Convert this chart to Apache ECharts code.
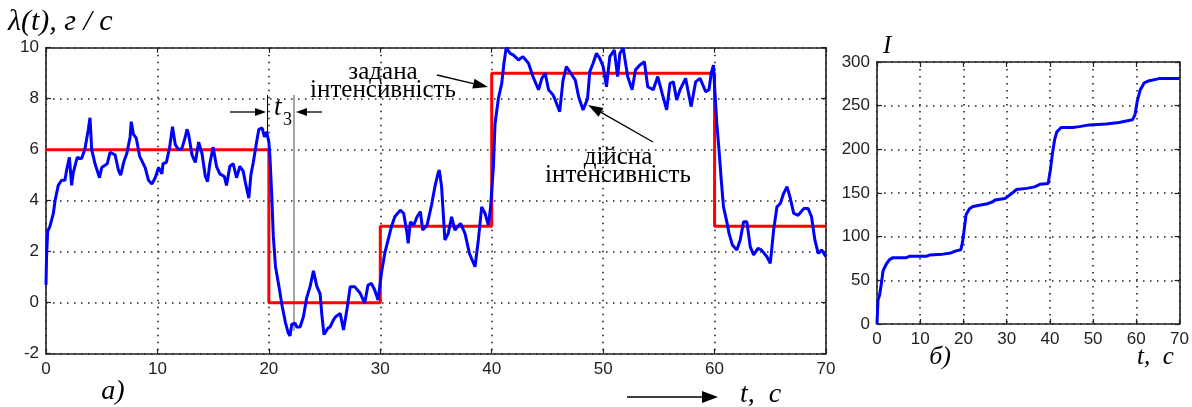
<!DOCTYPE html>
<html>
<head>
<meta charset="utf-8">
<script src="https://cdn.jsdelivr.net/npm/echarts@6/dist/echarts.min.js"></script>
<style>
  html, body { margin: 0; padding: 0; background: #fff; }
  #chart { width: 1192px; height: 407px; }
</style>
</head>
<body>
<div id="chart"></div>
<script>
// ліва панель: задана і дійсна інтенсивність
var setT = [0, 20, 30, 40, 60, 70]
var setV = [6, 0, 3, 9, 3, 3]

var realT = [0, 0.05, 0.15, 0.36, 0.66, 0.81, 1.1, 1.4, 1.7, 1.85, 2.1, 2.3, 2.45, 2.8, 3.2, 3.5, 3.8, 3.95,
  4.1, 4.4, 4.8, 5.0, 5.5, 5.75, 6.2, 6.5, 6.7, 7.0, 7.25, 7.55, 7.65, 7.85, 8.1, 8.4, 8.9, 9.2, 9.5, 9.8,
  10.1, 10.4, 10.5, 10.8, 11.1, 11.35, 11.6, 11.9, 12.2, 12.5, 12.65, 12.8, 13.1, 13.4, 13.7, 14.0, 14.3,
  14.5, 14.7, 15.0, 15.3, 15.6, 16.0, 16.2, 16.5, 16.8, 17.1, 17.4, 17.7, 17.9, 18.2, 18.4, 18.6, 18.9,
  19.1, 19.4, 19.6, 19.8, 20.0, 20.1, 20.26, 20.4, 20.6, 20.9, 21.2, 21.5, 21.75, 21.9, 22.05, 22.35, 22.5,
  22.8, 23.1, 23.4, 23.7, 24.0, 24.1, 24.3, 24.6, 24.75, 24.95, 25.3, 25.5, 25.8, 26.0, 26.4, 26.7, 27.0,
  27.3, 27.7, 28.2, 28.6, 28.9, 29.2, 29.5, 29.8, 30.1, 30.4, 30.7, 31.0, 31.3, 31.8, 32.1, 32.4, 32.5,
  32.7, 33.0, 33.3, 33.6, 33.8, 34.2, 34.6, 34.9, 35.2, 35.3, 35.5, 35.8, 36.1, 36.4, 36.7, 37.2, 37.6,
  38.0, 38.5, 38.8, 39.1, 39.4, 39.7, 39.9, 40.15, 40.3, 40.6, 40.9, 41.1, 41.3, 41.65, 41.95, 42.4, 42.8,
  43.3, 43.7, 44.2, 44.5, 44.8, 45.1, 45.5, 45.7, 46.1, 46.4, 46.7, 47.2, 47.5, 47.8, 48.2, 48.6, 48.8,
  49.1, 49.4, 49.7, 50.0, 50.3, 50.6, 51.0, 51.3, 51.5, 51.8, 52.2, 52.6, 52.9, 53.3, 53.7, 54.0, 54.5,
  54.9, 55.3, 55.7, 56.0, 56.3, 56.6, 56.9, 57.4, 57.6, 57.9, 58.3, 58.7, 59.2, 59.5, 59.7, 59.9, 60.0,
  60.2, 60.4, 60.6, 60.8, 61.1, 61.3, 61.6, 62.0, 62.3, 62.6, 62.9, 63.2, 63.5, 63.9, 64.2, 64.7, 65.0,
  65.3, 65.6, 65.9, 66.2, 66.5, 66.8, 67.1, 67.5, 68.0, 68.4, 68.7, 69.0, 69.3, 69.6, 70.0]
var realV = [0.7, 1.8, 2.8, 3.0, 3.5, 4.0, 4.6, 4.8, 4.8, 5.2, 5.7, 4.6, 5.1, 5.7, 5.65, 6.05, 6.8, 7.25,
  6.0, 5.45, 4.9, 5.3, 5.45, 5.9, 5.8, 5.2, 5.0, 5.55, 5.85, 6.5, 7.1, 6.6, 6.45, 5.75, 5.3, 4.8, 4.65, 4.9,
  5.3, 5.05, 5.45, 5.5, 6.1, 6.9, 6.2, 6.0, 6.05, 6.5, 6.8, 6.6, 5.8, 5.5, 6.3, 5.85, 4.95,
  4.75, 5.45, 6.1, 5.35, 5.05, 4.95, 4.6, 5.35, 5.45, 4.9, 5.35, 5.15, 4.7, 4.1, 5.05, 5.5, 6.3,
  6.8, 6.85, 6.5, 6.7, 6.3, 5.7, 4.2, 2.6, 1.4, 0.65, -0.15, -0.8, -1.2, -1.3, -0.85, -0.8, -0.95,
  -0.95, -0.55, 0.2, 0.63, 1.25, 1.3, 0.65, 0.35, -0.45, -1.25, -1.0, -0.95, -0.67, -0.55, -0.42, -1.07, -0.29,
  0.63, 0.63, 0.37, -0.02, 0.69, 0.76, 0.5, 0.1, 1.15, 1.93, 2.46, 2.98, 3.37, 3.63, 3.5, 2.72, 2.33,
  3.17, 3.04, 3.37, 3.57, 2.85, 3.04, 3.83, 4.55, 5.1, 5.2, 4.55, 2.46, 2.72, 3.37, 2.85, 3.11, 2.72,
  1.93, 1.41, 2.46, 3.76, 3.5, 3.04, 3.76, 5.33, 7.03, 8.01, 8.6, 9.4, 10.0, 9.78, 9.71, 9.52, 9.65,
  9.39, 8.87, 8.35, 8.8, 9.0, 8.35, 8.15, 7.95, 7.49, 8.73, 9.26, 8.93, 8.73, 8.08, 7.56, 8.0, 9.06,
  9.39, 9.78, 9.58, 9.26, 8.47, 9.65, 9.91, 8.87, 9.78, 9.98, 8.87, 8.35, 9.13, 9.32, 9.45, 8.47, 8.35,
  8.87, 8.2, 7.56, 8.6, 8.66, 7.95, 8.35, 8.8, 8.35, 7.69, 8.66, 8.8, 8.28, 8.35, 9.0, 9.32, 8.47,
  7.03, 5.98, 4.81, 3.76, 3.17, 2.72, 2.26, 2.07, 2.46, 3.17, 3.17, 2.2, 1.87, 2.13, 2.07, 1.8, 1.54,
  2.85, 3.76, 3.89, 4.29, 4.55, 4.09, 3.5, 3.43, 3.69, 3.69, 3.37, 2.46, 1.93, 2.07, 1.8]

// права панель: I(t)
var accT = [0, 0.23, 0.6, 1.0, 1.4, 2.2, 2.9, 3.7, 6.8, 7.5, 11.4, 12.1, 15.2, 17.1, 18.3, 19.4, 19.8,
  20.2, 20.6, 21.4, 22.2, 23.7, 25.3, 26.8, 27.3, 29.6, 30.7, 32.3, 34.6, 36.5, 37.7, 39.6, 40.1, 40.6,
  41.1, 41.6, 42.6, 45.3, 46.8, 49.1, 53.0, 56.0, 59.1, 59.7, 60.2, 60.9, 61.8, 63.0, 65.3, 70]
var accV = [0, 27, 33, 46, 61, 69, 73.7, 76, 76, 77.5, 77.5, 79, 80, 81.4, 83.7, 85, 94,
  109, 125, 132, 134.5, 136, 137.3, 140, 142, 143.8, 147.6, 154, 155.3, 157, 160, 161, 176, 195.5,
  211, 220, 225, 225, 226, 228, 229, 230.7, 233.8, 239.6, 254.9, 268, 276, 278.6, 281, 281]

var xTicksL = { min: 0, max: 70, interval: 10 }
var yTicksL = { min: -2, max: 10, interval: 2 }
var yTicksR = { min: 0, max: 300, interval: 50 }

function zip(a, b) {
  return a.map(function(v, i) { return [v, b[i]] })
}

var tickFont = 'Liberation Sans, Arial, sans-serif'
var serif = 'Liberation Serif, Times New Roman, serif'
var gridDots = { show: true, lineStyle: { color: '#222', width: 1.6, type: [1.5, 5.5] } }
var axLine = { show: true, onZero: false, lineStyle: { color: '#222', width: 1.6 } }
var axTick = { show: true, inside: true, length: 5, lineStyle: { color: '#222', width: 1.2 } }
var axLabel = { color: '#222', fontSize: 17, fontFamily: tickFont }

function mainAxis(pos, idx, r, extra) {
  return Object.assign({
    type: 'value', gridIndex: idx, position: pos,
    min: r.min, max: r.max, interval: r.interval,
    axisLine: axLine, axisTick: axTick, splitLine: gridDots,
    axisLabel: Object.assign({ margin: 7 }, axLabel)
  }, extra || {})
}
function sideAxis(pos, idx, r) {
  return {
    type: 'value', gridIndex: idx, position: pos,
    min: r.min, max: r.max, interval: r.interval,
    axisLine: axLine, axisTick: axTick, splitLine: { show: false },
    axisLabel: { show: false }
  }
}

// стрілка: лінія + трикутник
function arrow(x1, y1, x2, y2, len, w) {
  var dx = x2 - x1, dy = y2 - y1
  var d = Math.sqrt(dx * dx + dy * dy)
  var ux = dx / d, uy = dy / d
  var bx = x2 - ux * len, by = y2 - uy * len
  return [
    { type: 'line', shape: { x1: x1, y1: y1, x2: bx, y2: by }, style: { stroke: '#000', lineWidth: 1.3 } },
    { type: 'polygon', shape: { points: [[x2, y2], [bx - uy * w, by + ux * w], [bx + uy * w, by - ux * w]] },
      style: { fill: '#000' } }
  ]
}
function txt(x, y, s, size, align, extra) {
  return {
    type: 'text', x: x, y: y,
    style: Object.assign({
      text: s, fontSize: size, fontFamily: serif, fill: '#000',
      align: align || 'center', verticalAlign: 'middle'
    }, extra || {})
  }
}

var graphics = [].concat(
  txt(8, 22, 'λ(t), г / с', 30, 'left', { fontStyle: 'italic' }),
  txt(113, 392, 'а)', 28, 'center', { fontStyle: 'italic' }),
  arrow(627, 397, 718, 397, 16, 6),
  txt(740, 395, 't,  с', 28, 'left', { fontStyle: 'italic' }),
  txt(383, 72, 'задана', 25),
  txt(383, 90, 'інтенсивність', 25),
  arrow(437, 75, 488, 87, 15, 5),
  txt(618, 157, 'дійсна', 25),
  txt(618, 175, 'інтенсивність', 25),
  arrow(653, 142, 588, 105, 15, 5),
  { type: 'line', shape: { x1: 267.5, y1: 95, x2: 267.5, y2: 133 }, style: { stroke: '#000', lineWidth: 1 } },
  { type: 'line', shape: { x1: 294, y1: 95, x2: 294, y2: 331 }, style: { stroke: '#777', lineWidth: 1.3 } },
  arrow(230, 112, 266, 112, 11, 4),
  arrow(322, 112, 296, 112, 11, 4),
  txt(274, 108, 't', 27, 'left', { fontStyle: 'italic' }),
  txt(283, 120, '3', 18, 'left'),
  txt(883, 46, 'I', 25, 'left', { fontStyle: 'italic' }),
  txt(940, 357, 'б)', 26, 'center', { fontStyle: 'italic' }),
  txt(1137, 357, 't,  с', 25, 'left', { fontStyle: 'italic' })
)

var chart = echarts.init(document.getElementById('chart'), null, { renderer: 'canvas' })
chart.setOption({
  backgroundColor: '#fff',
  animation: false,
  grid: [
    { left: 46, top: 47.7, width: 780, height: 306 },
    { left: 877, top: 62, width: 303, height: 262 }
  ],
  xAxis: [
    mainAxis('bottom', 0, xTicksL),
    sideAxis('top', 0, xTicksL),
    mainAxis('bottom', 1, xTicksL),
    sideAxis('top', 1, xTicksL)
  ],
  yAxis: [
    mainAxis('left', 0, yTicksL),
    sideAxis('right', 0, yTicksL),
    mainAxis('left', 1, yTicksR),
    sideAxis('right', 1, yTicksR)
  ],
  series: [
    {
      name: 'задана', type: 'line', xAxisIndex: 0, yAxisIndex: 0,
      step: 'end', symbol: 'none', data: zip(setT, setV),
      lineStyle: { color: '#ff0000', width: 3 }, z: 3
    },
    {
      name: 'дійсна', type: 'line', xAxisIndex: 0, yAxisIndex: 0,
      symbol: 'none', data: zip(realT, realV),
      lineStyle: { color: '#0000ff', width: 3 }, z: 4
    },
    {
      name: 'I', type: 'line', xAxisIndex: 2, yAxisIndex: 2,
      symbol: 'none', data: zip(accT, accV),
      lineStyle: { color: '#0000ff', width: 3 }, z: 4
    }
  ],
  graphic: graphics
})
</script>
</body>
</html>
